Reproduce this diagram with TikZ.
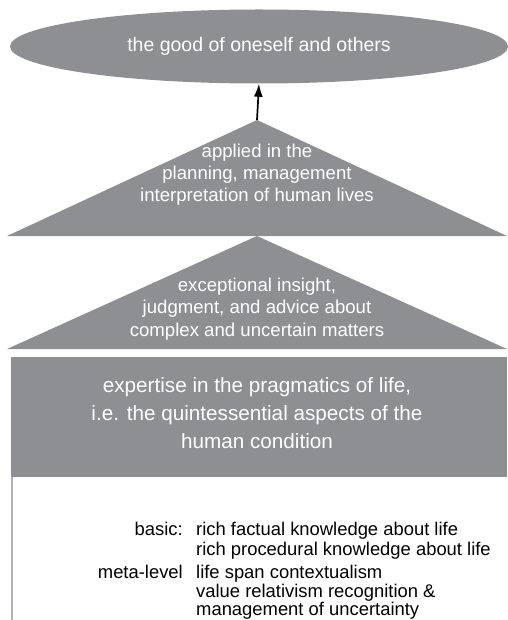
\documentclass[tikz,border=0pt]{standalone}
\usepackage{fontspec}
\setmainfont{Liberation Sans}
\usetikzlibrary{shapes.geometric,arrows.meta}
\definecolor{wgray}{RGB}{142,143,146}
\tikzset{wtext/.style={text=white, align=center, inner sep=0pt}}
\begin{document}
\begin{tikzpicture}[x=1pt, y=-1pt, line join=round, >={Latex[length=13pt,width=9pt]}]
	\useasboundingbox (0,0) rectangle (507,620);
	\node[ellipse, fill=wgray, minimum width=498pt, minimum height=74pt, wtext, font=\fontsize{19.5}{22}\selectfont] (good) at (259,46.5) {the good of oneself and others};
	% the two roofs and the base
	\fill[wgray] (257,120) coordinate(A1) -- (507,236) -- (7,236) -- cycle;
	\fill[wgray] (257,236) coordinate(A2) -- (507,349) -- (7,349) -- cycle;
	\fill[wgray] (11,357) rectangle (507,477);
	\draw[wgray!70, line width=1.5pt] (12,477) coordinate(L) -- (12,620);
	\draw[->, line width=1.7pt] (A1) -- (good.south);
	\node[wtext, font=\fontsize{18.6}{22}\selectfont] (apply) at (257,175) {applied in the\\planning, management\\interpretation of human lives};
	\node[wtext, font=\fontsize{18.6}{22.5}\selectfont] (insight) at (257,309) {exceptional insight,\\judgment, and advice about\\complex and uncertain matters};
	\node[wtext, font=\fontsize{20.7}{28}\selectfont] (expert) at (257,413) {expertise in the pragmatics of life,\\i.e. the quintessential aspects of the\\human condition};
	\begin{scope}[font=\fontsize{18.4}{20}\selectfont, inner sep=0pt]
		\node[anchor=base east] (basic) at (183,535) {basic:};
		\node[anchor=base east] (meta) at (183,578) {meta-level};
		\foreach \y/\t in {535/rich factual knowledge about life, 555/rich procedural knowledge about life, 578/life span contextualism, 597/value relativism recognition \&, 615/management of uncertainty}
			\node[anchor=base west] (k\y) at (196,\y) {\t};
	\end{scope}
\end{tikzpicture}
\end{document}
